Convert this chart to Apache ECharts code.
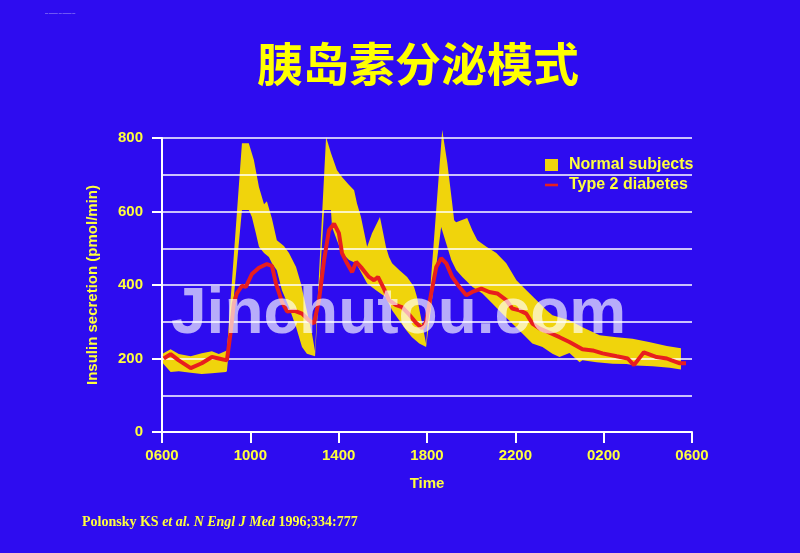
<!DOCTYPE html>
<html>
<head>
<meta charset="utf-8">
<script src="https://cdn.jsdelivr.net/npm/echarts@6/dist/echarts.min.js"></script>
<style>
html,body{margin:0;padding:0;background:#2e0cf0;}
#chart{width:800px;height:553px;}
</style>
</head>
<body>
<div id="chart"></div>
<script>
// hours after 06:00, insulin secretion (pmol/min)
const xTickLabels = ['0600','1000','1400','1800','2200','0200','0600'];
const yTickValues = [0, 200, 400, 600, 800];

const normalUpper = [
[0,212],[0.39,225],[0.76,212],[1.3,206],[1.8,214],[2.26,220],[2.57,212],[2.94,222],
[3.62,786],[3.93,786],[4.16,740],[4.39,667],[4.62,620],[4.75,628],[4.98,580],[5.2,522],[5.52,506],[5.75,487],[6.07,449],[6.29,404],[6.52,340],[6.79,268],[6.93,220],
[7.43,803],[7.65,759],[7.92,713],[8.15,694],[8.47,672],[8.7,658],[8.83,622],[9.01,585],[9.29,504],[9.51,541],[9.87,585],[10.14,504],[10.28,476],[10.42,459],[10.74,441],[11.1,422],[11.41,395],[11.55,367],[11.65,335],[11.96,240],
[12.69,822],[12.92,732],[13.14,623],[13.23,576],[13.32,571],[13.82,582],[14.05,549],[14.28,522],[14.69,504],[15.14,487],[15.59,459],[16.05,413],[16.5,386],[16.95,359],[17.41,331],[17.68,318],[18.45,304],[19.04,285],[19.82,263],[20.59,258],[21.31,254],[22.05,245],[22.86,234],[23.5,228]
];

const normalLower = [
[0,190],[0.39,163],[0.76,165],[1.3,161],[1.8,158],[2.26,160],[2.89,163],[2.94,165],
[3.62,604],[3.93,604],[4.07,585],[4.25,541],[4.39,504],[4.62,487],[4.84,476],[4.98,459],[5.2,440],[5.43,386],[5.75,340],[6.07,286],[6.34,231],[6.56,213],[6.93,206],
[7.34,604],[7.65,604],[7.7,558],[7.92,522],[8.15,487],[8.47,468],[8.79,459],[9.29,404],[9.69,386],[10.14,367],[10.42,331],[10.74,304],[11.06,277],[11.32,258],[11.65,241],[11.96,231],
[12.64,558],[12.87,513],[13.1,468],[13.32,441],[13.6,422],[14.05,395],[14.51,377],[14.96,350],[15.41,322],[15.86,295],[16.32,268],[16.77,241],[17.23,231],[17.68,213],[18.0,204],[18.45,215],[18.91,190],[19.04,195],[19.68,190],[20.41,186],[21.04,185],[21.46,181],[22.22,179],[22.99,175],[23.5,170]
];

const type2 = [
[0.08,200],[0.39,212],[0.76,195],[1.3,174],[1.8,187],[2.26,204],[2.57,200],[2.94,195],
[3.12,277],[3.25,350],[3.39,377],[3.62,398],[3.8,395],[4.07,430],[4.39,447],[4.75,457],[4.98,452],[5.16,404],[5.43,355],[5.66,328],[5.98,330],[6.34,322],[6.65,304],[6.88,295],
[7.11,359],[7.34,468],[7.56,549],[7.79,567],[8.01,541],[8.15,487],[8.38,459],[8.61,435],[8.79,463],[9.06,445],[9.37,422],[9.6,413],[9.78,422],[10.05,390],[10.28,359],[10.6,345],[10.87,340],[11.19,320],[11.5,297],[11.78,282],[11.96,300],
[12.19,377],[12.42,449],[12.64,473],[12.87,459],[13.14,422],[13.46,395],[13.78,372],[14.05,381],[14.46,390],[14.82,381],[15.18,377],[15.59,359],[15.86,336],[16.19,331],[16.5,322],[16.77,295],[17.09,282],[17.55,270],[18.0,258],[18.45,245],[19.04,225],[19.5,222],[19.95,214],[20.59,206],[21.09,200],[21.37,182],[21.82,217],[22.4,204],[22.86,200],[23.08,195],[23.45,187],[23.73,187]
];

const YEL = '#ffff3c';
const BAND = '#f0d40c';
const RED = '#e81e1e';
const lab = {color: YEL, fontFamily: 'Liberation Sans, Arial, sans-serif', fontWeight: 'bold', fontSize: 15};

const chart = echarts.init(document.getElementById('chart'), null, {renderer: 'canvas'});
chart.setOption({
  backgroundColor: '#2e0cf0',
  animation: false,
  title: {
    text: '胰岛素分泌模式',
    left: 252, top: 36,
    textStyle: {
      color: '#ffff00', fontSize: 46, fontWeight: 'bold',
      fontFamily: 'Noto Sans CJK SC',
      textShadowColor: 'rgba(0,0,40,0.7)', textShadowOffsetX: 2, textShadowOffsetY: 2, textShadowBlur: 0
    }
  },
  legend: {
    orient: 'vertical', left: 540, top: 152,
    itemWidth: 13, itemHeight: 12, itemGap: 4,
    symbolKeepAspect: true,
    textStyle: Object.assign({}, lab, {fontSize: 16, padding: [0, 0, 0, 6]}),
    data: [
      {name: 'Normal subjects', icon: 'rect'},
      {name: 'Type 2 diabetes', icon: 'path://M0,0H15V3H0Z'}
    ]
  },
  grid: {left: 162, right: 108, top: 138, bottom: 121},
  xAxis: {
    type: 'value', min: 0, max: 24, interval: 4,
    name: 'Time', nameLocation: 'middle', nameGap: 44,
    nameTextStyle: lab,
    axisLine: {lineStyle: {color: '#ffffff', width: 2}},
    axisTick: {length: 11, lineStyle: {color: '#ffffff', width: 2}},
    axisLabel: Object.assign({}, lab, {margin: 16, formatter: v => xTickLabels[Math.round(v / 4)]}),
    splitLine: {show: false}
  },
  yAxis: {
    type: 'value', min: 0, max: 800, interval: 200, z: 3,
    name: 'Insulin secretion (pmol/min)', nameLocation: 'middle', nameGap: 62,
    nameTextStyle: lab,
    axisLine: {show: true, lineStyle: {color: '#ffffff', width: 2}},
    axisTick: {show: true, length: 10, lineStyle: {color: '#ffffff', width: 2}},
    axisLabel: Object.assign({}, lab, {margin: 19, formatter: v => yTickValues.indexOf(v) >= 0 ? String(v) : ''}),
    splitLine: {show: true, lineStyle: {color: '#ffffff', width: 1.5}},
    minorTick: {show: false, splitNumber: 2},
    minorSplitLine: {show: true, lineStyle: {color: '#ffffff', width: 1.5}}
  },
  series: [
    {
      name: 'Normal subjects',
      type: 'custom',
      z: 1,
      itemStyle: {color: BAND},
      data: [[0, 0]],
      encode: {x: 0, y: 1},
      renderItem: function (params, api) {
        if (params.dataIndex !== 0) return;
        const pts = normalUpper.map(p => api.coord(p))
          .concat(normalLower.slice().reverse().map(p => api.coord(p)));
        return {type: 'polygon', shape: {points: pts}, style: {fill: BAND}};
      }
    },
    {
      name: 'Type 2 diabetes',
      type: 'line',
      z: 5,
      data: type2,
      symbol: 'none',
      itemStyle: {color: RED},
      lineStyle: {color: RED, width: 4}
    }
  ],
  graphic: [
    {
      type: 'text', z: 100, left: 171, top: 283,
      style: {
        text: 'Jinchutou.com',
        font: 'bold 64px "Liberation Sans", Arial, sans-serif',
        fill: 'rgba(255,255,255,0.66)'
      }
    },
    {
      type: 'text', z: 100, left: 82, top: 515,
      style: {
        rich: {
          b: {font: 'bold 14px "Liberation Serif", "Times New Roman", serif', fill: YEL},
          i: {font: 'italic bold 14px "Liberation Serif", "Times New Roman", serif', fill: YEL}
        },
        text: '{b|Polonsky KS }{i|et al. N Engl J Med }{b|1996;334:777}'
      }
    },
    {
      type: 'text', left: 45, top: 12,
      style: {text: '— ——— — ——— —', font: '3px sans-serif', fill: '#ffffff'}
    }
  ]
});
</script>
</body>
</html>
